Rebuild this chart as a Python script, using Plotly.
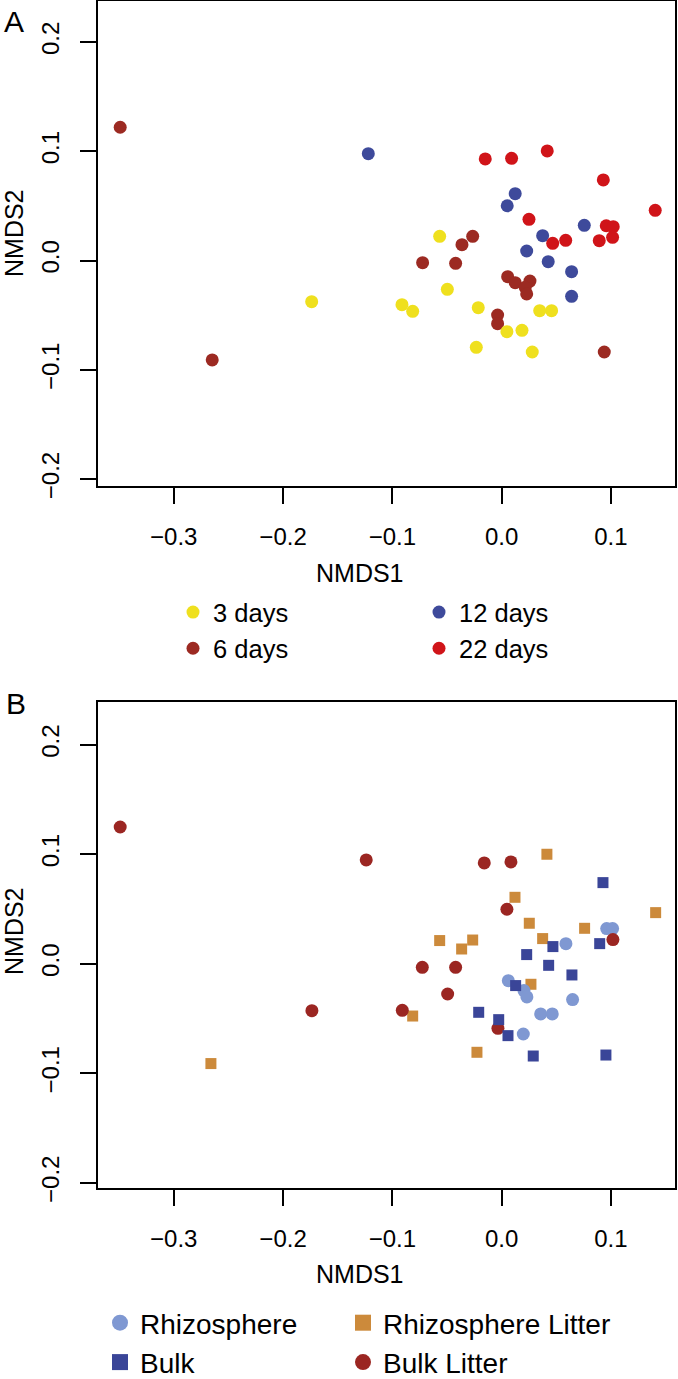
import plotly.graph_objects as go

W, H = 678, 1379

# ---------------- Panel A data (by sampling day) ----------------
a_3d_x = [-0.1738, -0.0567, -0.0497, -0.0912, -0.0814, -0.0214, 0.0348, 0.0457, 0.0048, 0.0186, -0.0232, 0.0280]
a_3d_y = [-0.0377, 0.0221, -0.0264, -0.0404, -0.0465, -0.0432, -0.0459, -0.0459, -0.0651, -0.0639, -0.0794, -0.0837]

a_6d_x = [-0.3490, -0.0265, -0.0363, -0.0723, -0.0421, 0.0055, 0.0124, 0.0259, 0.0216, 0.0229, -0.0037, -0.0037, 0.0939, -0.2648]
a_6d_y = [0.1219, 0.0221, 0.0145, -0.0020, -0.0026, -0.0148, -0.0203, -0.0188, -0.0245, -0.0306, -0.0499, -0.0578, -0.0837, -0.0910]

a_12d_x = [-0.1220, 0.0124, 0.0051, 0.0756, 0.0375, 0.0229, 0.0426, 0.0640, 0.0640]
a_12d_y = [0.0977, 0.0611, 0.0501, 0.0322, 0.0227, 0.0087, -0.0011, -0.0102, -0.0328]

a_22d_x = [-0.0150, 0.0091, 0.0417, 0.0930, 0.1405, 0.0250, 0.0957, 0.1021, 0.1015, 0.0893, 0.0586, 0.0467]
a_22d_y = [0.0929, 0.0935, 0.1002, 0.0737, 0.0459, 0.0377, 0.0318, 0.0309, 0.0212, 0.0181, 0.0185, 0.0157]

# ---------------- Panel B data (by compartment) ----------------
b_rhizo_x = [0.0961, 0.1015, 0.0588, 0.0061, 0.0204, 0.0231, 0.0649, 0.0357, 0.0463, 0.0198]
b_rhizo_y = [0.0321, 0.0321, 0.0184, -0.0154, -0.0245, -0.0303, -0.0327, -0.0458, -0.0458, -0.0641]

b_bulk_x = [0.0927, 0.0897, 0.0469, 0.0229, 0.0430, 0.0643, 0.0128, -0.0210, -0.0027, 0.0058, 0.0289, 0.0954]
b_bulk_y = [0.0741, 0.0184, 0.0157, 0.0084, -0.0014, -0.0102, -0.0199, -0.0443, -0.0510, -0.0656, -0.0842, -0.0833]

b_rlit_x = [-0.2660, 0.0414, 0.0122, 0.1409, 0.0253, 0.0759, 0.0375, -0.0567, -0.0265, -0.0366, 0.0268, -0.0814, -0.0226]
b_rlit_y = [-0.0911, 0.1000, 0.0607, 0.0467, 0.0370, 0.0324, 0.0230, 0.0212, 0.0217, 0.0135, -0.0187, -0.0477, -0.0808]

b_blit_x = [-0.3490, -0.1736, -0.1239, -0.0159, 0.0085, 0.0048, 0.1018, -0.0726, -0.0421, -0.0494, -0.0909, -0.0034]
b_blit_y = [0.1249, -0.0428, 0.0948, 0.0921, 0.0930, 0.0498, 0.0221, -0.0032, -0.0032, -0.0276, -0.0425, -0.0589]

# ---------------- Axis ticks ----------------
x_tickvals = [-0.3, -0.2, -0.1, 0.0, 0.1]
x_ticktext = ["\u22120.3", "\u22120.2", "\u22120.1", "0.0", "0.1"]
y_tickvals = [-0.2, -0.1, 0.0, 0.1, 0.2]
y_ticktext = ["\u22120.2", "\u22120.1", "0.0", "0.1", "0.2"]

FONT = "Liberation Sans, Arial, Helvetica, sans-serif"

C_3D = "#EFE01E"
C_6D = "#9C2A22"
C_12D = "#3E4A9B"
C_22D = "#D01419"
C_RHIZO = "#7F98D2"
C_BULK = "#3A4598"
C_RLIT = "#CC8A3B"
C_BLIT = "#9B2622"


def px_x(p):
    return p / W


def px_y(p):
    return 1 - p / H


fig = go.Figure()


def add(xs, ys, name, color, symbol, size, xa, ya, legend, rank, lsize=None):
    fig.add_trace(go.Scatter(
        x=xs, y=ys, mode="markers", name=name, xaxis=xa, yaxis=ya,
        marker=dict(color=color, symbol=symbol, size=size, line=dict(width=0)),
        showlegend=lsize is None, legend=legend, legendrank=rank,
    ))
    if lsize is not None:
        fig.add_trace(go.Scatter(
            x=[None], y=[None], mode="markers", name=name, xaxis=xa, yaxis=ya,
            marker=dict(color=color, symbol=symbol, size=lsize, line=dict(width=0)),
            showlegend=True, legend=legend, legendrank=rank, hoverinfo="skip",
        ))


# Panel A
add(a_6d_x, a_6d_y, "6 days", C_6D, "circle", 13, "x", "y", "legend", 2)
add(a_3d_x, a_3d_y, "3 days", C_3D, "circle", 13, "x", "y", "legend", 1)
add(a_12d_x, a_12d_y, "12 days", C_12D, "circle", 13, "x", "y", "legend2", 1)
add(a_22d_x, a_22d_y, "22 days", C_22D, "circle", 13, "x", "y", "legend2", 2)

# Panel B
add(b_rlit_x, b_rlit_y, "Rhizosphere Litter", C_RLIT, "square", 11, "x2", "y2", "legend4", 1, 17)
add(b_rhizo_x, b_rhizo_y, "Rhizosphere", C_RHIZO, "circle", 13, "x2", "y2", "legend3", 1, 20)
add(b_blit_x, b_blit_y, "Bulk Litter", C_BLIT, "circle", 13, "x2", "y2", "legend4", 2, 20)
add(b_bulk_x, b_bulk_y, "Bulk", C_BULK, "square", 11, "x2", "y2", "legend3", 2, 17)

common_x = dict(
    range=[-0.3693, 0.1586], tickvals=x_tickvals, ticktext=x_ticktext,
    showline=True, mirror=True, linecolor="black", linewidth=2,
    ticks="outside", ticklen=16, tickwidth=1.6, tickcolor="black",
    showgrid=False, zeroline=False, tickfont=dict(size=24, color="black", family=FONT),
    ticklabelstandoff=12,
)
common_y = dict(
    tickvals=y_tickvals, ticktext=y_ticktext, tickangle=-90,
    showline=True, mirror=True, linecolor="black", linewidth=2,
    ticks="outside", ticklen=16, tickwidth=1.6, tickcolor="black",
    showgrid=False, zeroline=False, tickfont=dict(size=24, color="black", family=FONT),
    ticklabelstandoff=11,
)

leg_common = dict(xanchor="left", yanchor="top", itemsizing="trace", bgcolor="rgba(0,0,0,0)", borderwidth=0)

fig.update_layout(
    width=W, height=H,
    margin=dict(l=0, r=0, t=0, b=0, autoexpand=False),
    paper_bgcolor="white", plot_bgcolor="white",
    font=dict(family=FONT, color="black"),
    xaxis=dict(domain=[px_x(98), px_x(675)], anchor="y", **common_x),
    yaxis=dict(domain=[px_y(486), px_y(1)], anchor="x", range=[-0.2063, 0.2374], **common_y),
    xaxis2=dict(domain=[px_x(98), px_x(675)], anchor="y2", **common_x),
    yaxis2=dict(domain=[px_y(1188), px_y(702)], anchor="x2", range=[-0.2047, 0.2390], **common_y),
    legend=dict(x=px_x(173), y=px_y(589), font=dict(size=25.5, family=FONT), **leg_common),
    legend2=dict(x=px_x(419), y=px_y(589), font=dict(size=25.5, family=FONT), **leg_common),
    legend3=dict(x=px_x(100), y=px_y(1298), font=dict(size=28, family=FONT), **leg_common),
    legend4=dict(x=px_x(343), y=px_y(1298), font=dict(size=28, family=FONT), **leg_common),
    annotations=[
        dict(text="A", x=px_x(14), y=px_y(21), xref="paper", yref="paper", showarrow=False,
             font=dict(size=30, family=FONT, color="black"), xanchor="center", yanchor="middle"),
        dict(text="B", x=px_x(16), y=px_y(703), xref="paper", yref="paper", showarrow=False,
             font=dict(size=30, family=FONT, color="black"), xanchor="center", yanchor="middle"),
        dict(text="NMDS2", x=px_x(14), y=px_y(233), xref="paper", yref="paper", showarrow=False,
             textangle=-90, font=dict(size=25, family=FONT, color="black"), xanchor="center", yanchor="middle"),
        dict(text="NMDS2", x=px_x(14), y=px_y(931), xref="paper", yref="paper", showarrow=False,
             textangle=-90, font=dict(size=25, family=FONT, color="black"), xanchor="center", yanchor="middle"),
        dict(text="NMDS1", x=px_x(360), y=px_y(573), xref="paper", yref="paper", showarrow=False,
             font=dict(size=25, family=FONT, color="black"), xanchor="center", yanchor="middle"),
        dict(text="NMDS1", x=px_x(360), y=px_y(1274), xref="paper", yref="paper", showarrow=False,
             font=dict(size=25, family=FONT, color="black"), xanchor="center", yanchor="middle"),
    ],
)

fig.write_html(
    "out.html",
    config={"displayModeBar": False},
    post_script="document.body.style.margin='0';document.body.style.overflow='hidden';",
)
